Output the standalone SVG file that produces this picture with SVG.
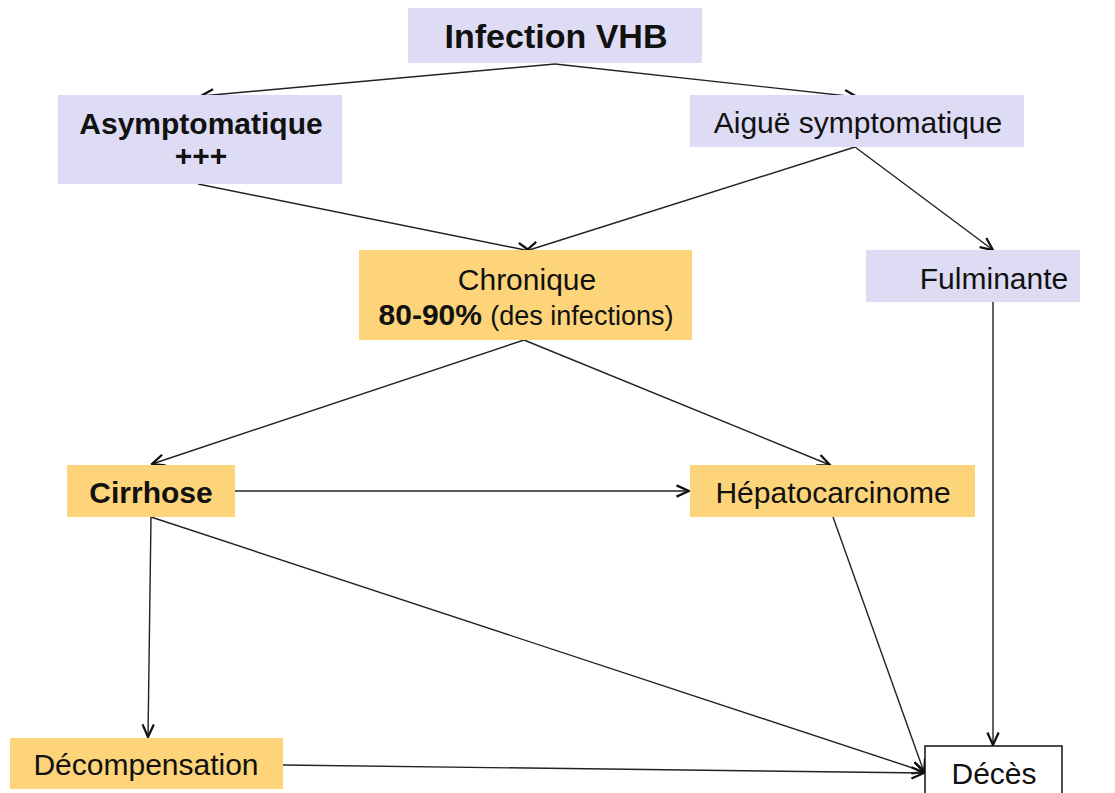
<svg xmlns="http://www.w3.org/2000/svg" width="1115" height="793" viewBox="0 0 1115 793">
<style>
.lav{fill:#dedcf5}
.org{fill:#fdd47a}
.t{font-family:"Liberation Sans",Arial,sans-serif;font-size:30px;fill:#111;text-anchor:middle}
.b{font-weight:bold}
.c{stroke:#222;stroke-width:1.4;fill:none;marker-end:url(#ah)}
</style>
<defs>
<marker id="ah" viewBox="0 0 12 12" refX="11" refY="6" markerWidth="15" markerHeight="15" markerUnits="userSpaceOnUse" orient="auto">
<path d="M1,1.5 L11,6 L1,10.5" fill="none" stroke="#111" stroke-width="1.8"/>
</marker>
</defs>
<rect width="1115" height="793" fill="#fff"/>
<g id="connectors">
<line class="c" x1="555" y1="64" x2="201" y2="96"/>
<line class="c" x1="555" y1="64" x2="857" y2="97"/>
<line class="c" x1="198" y1="184" x2="530" y2="251"/>
<line class="c" x1="855" y1="147" x2="526" y2="251"/>
<line class="c" x1="855" y1="147" x2="993" y2="250"/>
<line class="c" x1="524" y1="340" x2="152" y2="464"/>
<line class="c" x1="524" y1="340" x2="830" y2="465"/>
<line class="c" x1="235" y1="491" x2="689" y2="491"/>
<line class="c" x1="151" y1="517" x2="148" y2="737"/>
<line class="c" x1="151" y1="517" x2="925" y2="772"/>
<line class="c" x1="833" y1="517" x2="924" y2="772"/>
<line class="c" x1="993" y1="302" x2="993" y2="745"/>
<line class="c" x1="283" y1="765" x2="924" y2="773"/>
</g>
<g id="infection">
<rect class="lav" x="408" y="8" width="294" height="55"/>
<text class="t b" x="556" y="48" style="font-size:34px">Infection VHB</text>
</g>
<g id="asymptomatique">
<rect class="lav" x="58" y="95" width="284" height="89"/>
<text class="t b" x="201" y="134">Asymptomatique</text>
<text class="t b" x="201" y="166">+++</text>
</g>
<g id="aigue">
<rect class="lav" x="690" y="95" width="334" height="52"/>
<text class="t" x="858" y="133">Aiguë symptomatique</text>
</g>
<g id="chronique">
<rect class="org" x="359" y="250" width="333" height="90"/>
<text class="t" x="527" y="290">Chronique</text>
<text class="t" x="526" y="325"><tspan class="b">80-90%</tspan> <tspan style="font-size:27px">(des infections)</tspan></text>
</g>
<g id="fulminante">
<rect class="lav" x="866" y="250" width="214" height="52"/>
<text class="t" x="994" y="289">Fulminante</text>
</g>
<g id="cirrhose">
<rect class="org" x="67" y="465" width="168" height="52"/>
<text class="t b" x="151" y="503">Cirrhose</text>
</g>
<g id="hepatocarcinome">
<rect class="org" x="690" y="465" width="285" height="52"/>
<text class="t" x="833" y="503">Hépatocarcinome</text>
</g>
<g id="decompensation">
<rect class="org" x="10" y="738" width="273" height="51"/>
<text class="t" x="146" y="775">Décompensation</text>
</g>
<g id="deces">
<rect x="925" y="746" width="137" height="52" fill="#fff" stroke="#111" stroke-width="1.5"/>
<text class="t" x="994" y="784">Décès</text>
</g>
</svg>
